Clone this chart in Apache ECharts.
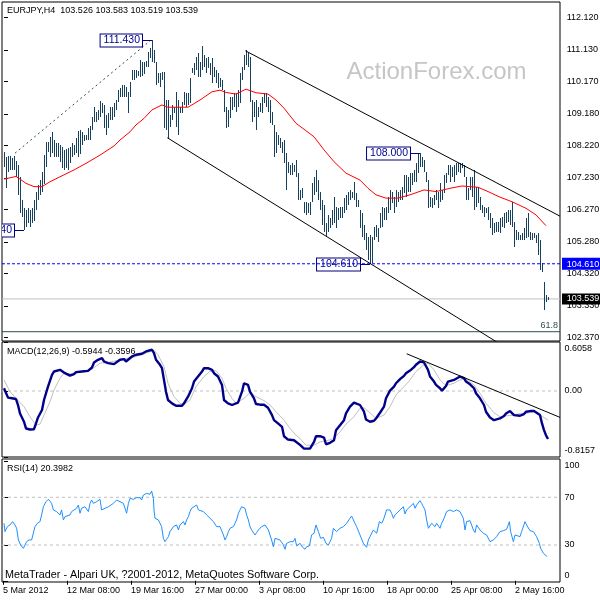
<!DOCTYPE html>
<html><head><meta charset="utf-8">
<script src="https://cdn.jsdelivr.net/npm/echarts@6/dist/echarts.min.js"></script>
<style>html,body{margin:0;padding:0;background:#fff}#c{width:600px;height:600px}</style>
</head><body><div id="c"></div>
<script>
const FONT = 'Liberation Sans';
// ---------- price bars (H4, one per bar index) ----------
const barHigh = [
108.02,107.86,107.89,107.89,107.83,107.89,107.74,107.62,107.25,106.55,
106.31,106.25,106.31,106.25,106.31,106.55,106.80,107.01,107.16,107.41,
107.92,108.32,108.32,108.47,108.63,108.38,108.29,108.29,108.23,108.17,
108.08,108.11,108.14,108.17,108.29,108.23,108.44,108.66,108.69,108.63,
108.53,108.53,108.75,108.81,109.08,109.39,109.23,109.30,109.57,109.51,
109.45,109.14,109.20,109.39,109.39,109.51,109.60,109.90,109.97,110.06,
110.06,110.00,109.84,110.15,110.51,110.51,110.51,110.48,110.82,110.76,
110.76,110.79,111.06,111.18,111.43,111.12,110.76,110.42,110.42,110.45,
110.45,109.60,109.60,109.14,109.45,109.39,109.84,109.60,109.39,109.54,
109.84,109.81,109.81,110.27,110.58,110.73,110.91,111.03,110.76,111.25,
110.97,110.88,110.91,110.73,110.88,110.61,110.51,110.42,110.27,110.21,
109.90,109.39,109.30,109.69,109.69,109.81,109.81,109.90,110.42,110.61,
110.97,111.12,111.03,110.91,109.60,109.54,109.60,109.39,109.51,109.69,
109.81,109.81,109.69,109.60,109.23,108.84,108.63,108.53,108.44,108.32,
108.38,107.99,107.71,107.62,107.68,107.62,107.77,107.38,106.86,106.92,
106.49,106.49,106.46,106.49,107.07,107.25,107.47,107.16,106.80,106.55,
106.40,105.85,106.10,106.00,106.25,106.64,106.34,106.31,106.34,106.34,
106.61,106.71,106.80,106.86,106.80,107.10,106.77,106.55,106.25,106.16,
105.79,105.55,105.43,105.49,105.43,105.73,105.79,105.70,106.16,106.34,
106.31,106.34,106.64,106.86,106.80,106.64,106.86,106.80,106.86,106.95,
107.31,107.31,107.25,107.38,107.38,107.47,107.68,107.99,108.00,107.86,
107.77,107.41,107.16,106.64,106.61,106.71,106.86,106.80,107.07,106.86,
107.31,107.38,107.62,107.62,107.56,107.62,107.68,107.68,107.68,107.68,
107.62,107.25,106.92,107.25,107.25,107.47,106.95,106.92,106.64,106.40,
106.34,106.31,106.34,106.16,106.00,105.85,105.88,105.88,106.00,106.04,
106.16,106.19,106.25,106.25,106.49,105.88,105.64,105.58,105.49,105.55,
105.70,106.00,106.16,105.58,105.55,105.55,105.49,105.55,105.33,104.63,
104.05,103.66,103.583];
const barLow = [
107.56,106.92,107.41,107.47,107.47,107.47,107.25,106.71,106.16,106.04,
105.64,105.73,105.85,105.73,105.85,105.91,106.25,106.55,106.71,106.80,
107.04,107.56,108.02,107.86,107.99,107.86,107.86,107.86,107.71,107.53,
107.47,107.53,107.47,107.68,107.86,107.92,107.99,107.86,107.95,108.23,
108.35,108.38,108.38,108.38,108.69,108.93,108.93,108.99,109.08,109.20,
108.75,108.53,108.75,108.99,108.99,109.08,109.30,109.54,109.69,109.69,
109.69,109.69,109.20,109.69,110.21,110.21,110.27,110.33,110.30,110.33,
110.39,110.61,110.61,110.88,110.76,110.73,110.06,110.12,110.00,110.21,
108.75,108.69,108.44,108.78,108.99,109.20,108.78,108.53,109.20,109.20,
109.45,109.39,109.45,109.51,110.42,110.36,110.51,110.30,110.30,110.51,
110.61,110.42,110.58,110.36,110.12,110.30,110.12,109.97,110.00,109.90,
109.23,108.75,108.78,109.05,109.30,109.39,109.23,109.39,109.51,110.21,
110.51,110.67,110.61,109.54,108.93,109.08,108.69,109.08,109.23,109.20,
109.51,109.39,109.23,108.90,108.84,107.86,107.99,108.23,108.14,107.99,
107.68,106.86,107.38,107.31,107.31,107.41,107.25,106.55,106.55,106.61,
106.16,106.10,106.16,106.10,106.49,106.71,106.80,106.55,106.25,105.79,
105.58,105.43,105.58,105.70,105.79,105.85,105.70,105.94,106.00,106.00,
106.16,106.25,106.40,106.55,106.61,106.55,106.34,106.34,105.70,105.43,
105.33,105.03,104.73,104.61,104.63,105.33,105.43,105.27,105.70,105.73,
105.94,105.94,106.16,106.25,106.46,106.16,106.34,106.49,106.55,106.55,
106.77,106.64,106.80,106.80,107.01,107.10,107.10,107.38,107.56,107.56,
107.41,107.10,106.31,106.34,106.31,106.40,106.55,106.31,106.49,106.55,
106.77,107.07,107.31,107.10,107.25,107.10,107.31,107.41,107.38,107.53,
107.25,106.55,106.55,106.86,106.64,106.25,106.34,106.46,106.25,106.16,
106.04,106.16,105.94,105.70,105.49,105.55,105.58,105.58,105.55,105.73,
105.70,105.85,105.88,105.79,105.73,105.12,105.33,105.33,105.33,105.33,
105.33,105.40,105.43,105.33,105.33,105.40,105.24,104.88,104.42,104.36,
103.20,103.45,103.519];
// moving average (red), [bar index, price]
const maLine = [[0,107.19],[6,107.27],[8,107.19],[11,107.06],[15,106.96],[19,106.96],[23,107.11],[29,107.29],[35,107.47],[41,107.67],[48,107.92],[55,108.20],[58,108.38],[63,108.63],[66,108.84],[70,109.04],[74,109.30],[79,109.45],[82,109.38],[92,109.38],[98,109.60],[104,109.85],[108,109.90],[111,109.83],[116,109.78],[121,109.93],[126,109.82],[132,109.78],[136,109.60],[140,109.35],[146,108.89],[155,108.48],[160,108.08],[165,107.72],[171,107.37],[178,107.16],[182,106.91],[186,106.71],[191,106.61],[197,106.61],[203,106.71],[210,106.86],[216,106.81],[223,106.91],[229,106.98],[237,106.94],[242,106.81],[248,106.64],[254,106.50],[261,106.30],[266,106.10],[271,105.77]];
// drawn objects
const upperChannel = [[120.7,111.10],[278,106.06]];
const lowerChannel = [[81.65,108.45],[250,102.09]];
const riseTrend = [[5.5,107.98],[73,111.40]];
const levelPrice = 104.61, bidPrice = 103.539, fibPrice = 102.54, fibText = '61.8';
const markIdx = [74, 208, 183, 10];
const markPrice = [111.43, 108.00, 104.61, 105.64];
const priceTicks = [102.37,103.33,104.32,105.28,106.27,107.23,108.22,109.18,110.17,111.13,112.12];
// MACD
const macdLine = [[0,0.034],[2,-0.082],[4,-0.090],[6,-0.099],[7,-0.173],[8,-0.277],[10,-0.380],[11,-0.463],[13,-0.476],[15,-0.472],[16,-0.401],[17,-0.327],[19,-0.235],[20,-0.111],[22,0.054],[24,0.199],[25,0.241],[28,0.262],[30,0.228],[31,0.208],[33,0.191],[35,0.208],[36,0.233],[39,0.241],[42,0.249],[44,0.291],[45,0.353],[47,0.386],[49,0.407],[50,0.365],[52,0.344],[55,0.332],[56,0.344],[58,0.386],[60,0.394],[61,0.365],[62,0.378],[64,0.427],[66,0.448],[69,0.460],[71,0.489],[74,0.510],[75,0.469],[76,0.386],[78,0.324],[79,0.282],[80,0.137],[81,-0.008],[82,-0.111],[84,-0.153],[86,-0.182],[89,-0.182],[90,-0.153],[92,-0.070],[94,0.034],[95,0.117],[97,0.179],[99,0.241],[100,0.282],[102,0.282],[104,0.262],[105,0.220],[107,0.179],[109,0.075],[110,-0.111],[112,-0.153],[114,-0.173],[115,-0.194],[117,-0.144],[119,-0.008],[120,0.096],[122,0.075],[123,-0.008],[125,-0.090],[126,-0.161],[128,-0.169],[130,-0.169],[132,-0.207],[134,-0.298],[135,-0.360],[137,-0.401],[139,-0.443],[140,-0.559],[142,-0.600],[145,-0.608],[146,-0.621],[148,-0.666],[150,-0.712],[151,-0.733],[153,-0.712],[155,-0.629],[156,-0.559],[158,-0.559],[160,-0.575],[161,-0.658],[163,-0.641],[165,-0.608],[166,-0.484],[168,-0.422],[170,-0.360],[171,-0.277],[173,-0.194],[175,-0.144],[176,-0.132],[178,-0.173],[180,-0.256],[181,-0.352],[183,-0.380],[185,-0.368],[186,-0.339],[188,-0.269],[190,-0.194],[191,-0.090],[193,0.005],[195,0.054],[196,0.096],[198,0.146],[200,0.187],[201,0.220],[203,0.253],[205,0.295],[206,0.324],[208,0.365],[209,0.378],[210,0.353],[212,0.262],[213,0.179],[215,0.117],[216,0.075],[218,0.034],[219,0.005],[221,0.063],[222,0.117],[225,0.137],[226,0.158],[228,0.179],[230,0.158],[231,0.117],[233,0.083],[235,0.034],[236,-0.028],[238,-0.090],[240,-0.173],[241,-0.256],[243,-0.327],[245,-0.360],[246,-0.360],[248,-0.339],[250,-0.310],[251,-0.277],[253,-0.248],[255,-0.298],[256,-0.310],[258,-0.306],[260,-0.285],[261,-0.256],[263,-0.248],[265,-0.248],[266,-0.256],[268,-0.298],[269,-0.401],[270,-0.484],[271,-0.546],[272,-0.594]];
const signalLine = [[0,0.137],[3,-0.008],[6,-0.090],[10,-0.194],[13,-0.318],[16,-0.422],[18,-0.409],[20,-0.298],[23,-0.132],[25,0.013],[28,0.158],[30,0.220],[33,0.212],[36,0.220],[40,0.249],[44,0.270],[48,0.344],[53,0.357],[58,0.386],[65,0.419],[70,0.460],[75,0.502],[77,0.448],[80,0.303],[82,0.096],[85,-0.070],[88,-0.153],[90,-0.165],[93,-0.111],[96,0.054],[100,0.179],[103,0.241],[106,0.253],[109,0.158],[111,0.034],[114,-0.090],[116,-0.153],[120,-0.090],[123,-0.020],[126,-0.070],[130,-0.119],[133,-0.173],[136,-0.256],[140,-0.360],[143,-0.463],[146,-0.546],[148,-0.588],[151,-0.670],[155,-0.670],[158,-0.629],[161,-0.617],[165,-0.588],[168,-0.505],[171,-0.409],[175,-0.318],[178,-0.215],[180,-0.207],[183,-0.269],[186,-0.339],[190,-0.298],[193,-0.194],[196,-0.049],[200,0.054],[203,0.137],[206,0.241],[210,0.324],[212,0.344],[215,0.262],[218,0.137],[221,0.067],[225,0.096],[228,0.137],[231,0.146],[235,0.075],[238,-0.028],[241,-0.153],[245,-0.269],[248,-0.318],[251,-0.306],[255,-0.298],[258,-0.277],[261,-0.277],[265,-0.256],[268,-0.298],[272,-0.360]];
const macdTrend = [[201.35,0.460],[278,-0.326]];
const macdMax = 0.6058, macdMin = -0.8157;
// RSI(14)
const rsiLine = [[0,48.2],[0.5,41.2],[1.7,45.4],[3,46.8],[4.3,49.6],[5.5,46.8],[6.3,44.0],[7.2,34.2],[8.3,30.0],[9.7,27.2],[10.5,26.4],[11.3,32.8],[12.5,34.2],[13.8,34.2],[14.7,35.6],[15.5,45.4],[16.7,48.2],[18,49.6],[18.8,55.2],[19.7,62.1],[21,66.3],[22.2,68.3],[23,69.1],[23.8,64.9],[24.7,59.4],[25.5,60.8],[26.3,58.0],[27.2,59.4],[28,55.2],[28.8,59.4],[29.7,51.0],[30.5,53.8],[31.3,52.4],[33,55.2],[33.8,58.0],[34.7,59.4],[36.3,60.8],[37.2,63.5],[38,56.6],[38.8,60.8],[39.7,59.4],[40.5,62.1],[42.2,58.0],[43,64.9],[43.8,67.7],[44.7,64.9],[46.3,66.3],[48,68.3],[48.8,59.4],[49.7,58.0],[50.5,60.8],[51.3,59.4],[52.2,62.1],[53,61.6],[54.7,64.9],[55.5,63.5],[56.3,67.7],[57.2,69.1],[58,66.3],[58.8,67.7],[59.7,64.9],[60.5,65.5],[61.3,56.6],[62.2,64.9],[63,69.1],[64.7,68.3],[66.3,69.7],[68,69.7],[68.8,67.7],[69.7,71.9],[71.3,73.3],[72.2,74.7],[73,72.5],[73.8,75.3],[74.7,69.1],[75,59.4],[75.5,52.4],[77.2,51.0],[78,51.5],[78.8,45.4],[79.7,35.6],[80.5,32.8],[81.3,34.8],[82.2,37.0],[83,41.2],[83.8,42.6],[84.7,45.4],[85.5,44.0],[86.3,46.8],[87.2,42.6],[88,46.8],[88.8,45.4],[89.7,49.6],[90.5,46.8],[91.3,51.0],[92.2,53.8],[93,58.0],[93.8,60.8],[94.7,62.1],[96.3,63.5],[97.2,59.4],[98,60.8],[99.7,58.0],[101.3,55.2],[103,52.4],[104.7,49.6],[106.3,45.4],[108,45.4],[109.7,38.4],[110.5,34.2],[111.3,37.0],[112.2,41.2],[113,44.0],[113.8,42.6],[114.7,45.4],[116.3,51.0],[117.2,56.6],[118,59.4],[118.8,62.1],[119.7,63.5],[120.5,60.8],[121.3,55.2],[122.2,51.0],[123,45.4],[123.8,42.6],[124.7,41.2],[125.5,38.4],[126.3,40.4],[127.2,42.6],[128.8,45.4],[129.7,45.9],[130.5,46.8],[131.3,45.9],[132.2,42.6],[133,38.4],[133.8,34.2],[134.7,28.6],[135.5,35.6],[136.3,35.6],[138,34.2],[138.8,32.8],[139.7,30.0],[140.5,26.4],[141.3,31.4],[142.2,32.8],[143,32.8],[144.7,32.8],[145.5,35.6],[146.3,29.2],[147.2,30.0],[148,31.4],[149.3,28.1],[150.5,26.4],[151.3,28.6],[152.7,29.2],[153.8,38.4],[155,39.8],[156,46.8],[157.2,41.2],[158.3,35.6],[159.7,36.4],[161,31.4],[162.2,30.0],[163,32.8],[163.8,35.6],[164.7,44.0],[166.3,41.2],[168,44.0],[169.7,45.4],[171.3,48.2],[173,52.4],[173.8,54.3],[174.7,51.0],[175.5,48.2],[176.3,45.4],[178,38.4],[179.7,31.4],[181.3,28.1],[182.2,34.2],[183,37.0],[183.8,38.4],[184.7,42.6],[185.5,44.0],[186.3,39.8],[187.7,49.6],[188.8,48.2],[189.7,51.0],[190.5,52.4],[191.3,59.4],[192.2,60.8],[193,59.4],[193.8,56.6],[194.7,52.4],[195.5,55.2],[196.3,56.6],[198,59.4],[198.8,58.0],[199.7,62.1],[200.5,56.0],[201.3,59.4],[203,62.1],[204.7,64.9],[205.5,60.8],[206.3,63.5],[208,67.2],[208.8,64.9],[209.7,62.1],[210.5,59.4],[211.3,51.0],[212.2,44.0],[213,45.4],[213.8,48.2],[214.7,49.6],[215.5,45.4],[216.3,48.2],[217.2,49.6],[218,44.0],[218.8,48.2],[219.7,51.0],[221.3,58.0],[223,59.4],[224.7,58.0],[226.3,59.4],[228,58.0],[228.8,55.2],[229.7,52.4],[230.5,42.6],[231.3,49.6],[232.2,48.2],[233,50.4],[233.8,46.8],[234.7,42.6],[235.5,40.4],[236.3,46.8],[237.2,45.4],[238,42.6],[238.8,41.2],[239.7,39.8],[241.3,38.4],[243,32.8],[243.8,31.4],[244.7,34.2],[246.3,37.0],[248,41.2],[249.7,42.0],[251.3,43.1],[252.7,49.6],[253.3,41.2],[254.7,32.8],[255.5,38.4],[256.3,38.4],[258,37.0],[258.8,41.2],[259.7,42.6],[260.5,49.6],[261.3,46.8],[263,42.0],[264.7,41.2],[266.3,37.0],[267.7,31.4],[268.3,27.2],[269.7,23.0],[271.5,20.4]];
const rsiTicks = [100, 70, 30, 0];
const rsiLevels = [70, 30];
// time axis labels (first bar index of each label)
const xLabelIdx = [0, 32, 64, 96, 128, 160, 192, 224, 256];
const xLabelText = ['5 Mar 2012','12 Mar 08:00','19 Mar 16:00','27 Mar 00:00','3 Apr 08:00','10 Apr 16:00','18 Apr 00:00','25 Apr 08:00','2 May 16:00'];
const titleText = 'EURJPY,H4  103.526 103.583 103.519 103.539';
const macdTitle = 'MACD(12,26,9) -0.5944 -0.3596';
const rsiTitle = 'RSI(14) 20.3982';
const footerText = 'MetaTrader - Alpari UK, ?2001-2012, MetaQuotes Software Corp.';
const watermark = 'ActionForex.com';

// ---------- chart ----------
const BAR = '#15405e';
const XMIN = -1, XMAX = 278;
const chart = echarts.init(document.getElementById('c'), null, {renderer: 'canvas', width: 600, height: 600});
const grids = [
  {left: 2, right: 40, top: 2, height: 339},
  {left: 2, right: 40, top: 342, height: 115},
  {left: 2, right: 40, top: 459, height: 123}
].map(g => Object.assign(g, {show: true, borderColor: '#000', borderWidth: 1, backgroundColor: '#fff', containLabel: false, outerBoundsMode: 'none'}));
function hiddenX(i) {
  return {type: 'value', gridIndex: i, min: XMIN, max: XMAX, show: false, splitLine: {show: false}};
}
const lbl = (extra) => Object.assign({fontFamily: FONT, fontSize: 9, color: '#000'}, extra);
const xTickVals = xLabelIdx.map(v => v - 0.5);
function plainLine(name, data, color, width, type, xi, yi, z) {
  return {type: 'line', name: name, xAxisIndex: xi, yAxisIndex: yi, data: data, symbol: 'none', showSymbol: false,
    silent: true, animation: false, z: z || 2, clip: true,
    lineStyle: {color: color, width: width, type: type || 'solid', cap: 'butt'}};
}
const H = (v) => [[XMIN, v], [XMAX, v]];

const option = {
  animation: false,
  backgroundColor: '#fff',
  title: [
    {text: titleText, left: 7, top: 6.2, padding: 0, textStyle: lbl({fontWeight: 'normal', lineHeight: 9})},
    {text: watermark, left: 346.5, top: 60.5, padding: 0, z: 0, textStyle: {fontFamily: FONT, fontSize: 24, fontWeight: 'normal', color: '#c6c6c6', lineHeight: 24}},
    {text: macdTitle, left: 7, top: 347.5, padding: 0, textStyle: lbl({fontWeight: 'normal', lineHeight: 9})},
    {text: rsiTitle, left: 7, top: 463.8, padding: 0, textStyle: lbl({fontWeight: 'normal', lineHeight: 9})},
    {text: footerText, left: 5, top: 569.6, padding: 0, textStyle: lbl({fontWeight: 'normal', fontSize: 10.8, lineHeight: 11})}
  ],
  grid: grids,
  xAxis: [hiddenX(0), hiddenX(1), {
    type: 'value', gridIndex: 2, min: XMIN, max: XMAX,
    axisLine: {show: false}, splitLine: {show: false},
    axisTick: {show: true, customValues: xTickVals, length: 4, lineStyle: {color: '#000'}},
    axisLabel: Object.assign(lbl({}), {customValues: xTickVals, align: 'left', margin: 4, hideOverlap: false,
      showMinLabel: true, showMaxLabel: true,
      formatter: (v) => xLabelText[xLabelIdx.indexOf(Math.round(v + 0.5))] || ''})
  }],
  yAxis: [
    {type: 'value', gridIndex: 0, position: 'right', min: 102.257, max: 112.586, scale: true,
      axisLine: {show: false}, splitLine: {show: false},
      axisTick: {show: true, customValues: priceTicks, length: 4, lineStyle: {color: '#000'}},
      axisLabel: {customValues: priceTicks.concat([levelPrice, bidPrice]), margin: 2, hideOverlap: false,
        showMinLabel: true, showMaxLabel: true,
        formatter: (v) => {
          const s = v.toFixed(3);
          if (Math.abs(v - bidPrice) < 1e-9) return '{bid|' + s + '}';
          if (Math.abs(v - levelPrice) < 1e-9) return '{lvl|' + s + '}';
          return '{n|' + s + '}';
        },
        rich: {
          n: lbl({padding: [0, 0, 0, 4.7]}),
          lvl: lbl({color: '#fff', backgroundColor: '#0000ff', padding: [2, 14, 1, 4.7]}),
          bid: lbl({color: '#fff', backgroundColor: '#000', padding: [1, 14, 1, 4.7]})
        }}},
    {type: 'value', gridIndex: 1, position: 'right', min: macdMin, max: macdMax,
      axisLine: {show: false}, splitLine: {show: false},
      axisTick: {show: true, customValues: [macdMax, 0, macdMin], length: 4, lineStyle: {color: '#000'}},
      axisLabel: {customValues: [macdMax, 0, macdMin], margin: 2, hideOverlap: false, showMinLabel: true, showMaxLabel: true,
        formatter: (v) => v === macdMax ? '{t|' + v.toFixed(4) + '}' : (v === macdMin ? '{b|' + v.toFixed(4) + '}' : '{n|' + v.toFixed(2) + '}'),
        rich: {t: lbl({padding: [14, 0, 0, 2.5]}), b: lbl({padding: [0, 0, 12.6, 2.5]}), n: lbl({padding: [0, 0, 0, 2.5]})}}},
    {type: 'value', gridIndex: 2, position: 'right', min: -1.03, max: 102.1,
      axisLine: {show: false}, splitLine: {show: false},
      axisTick: {show: true, customValues: rsiTicks, length: 4, lineStyle: {color: '#000'}},
      axisLabel: {customValues: rsiTicks, margin: 2, hideOverlap: false, showMinLabel: true, showMaxLabel: true,
        formatter: (v) => v === 100 ? '{t|100}' : (v === 0 ? '{b|0}' : '{n|' + v + '}'),
        rich: {t: lbl({padding: [9, 0, 0, 2.5]}), b: lbl({padding: [0, 0, 10, 2.5]}), n: lbl({padding: [0, 0, 0, 2.5]})}}}
  ],
  series: [
    {type: 'custom', name: 'bars', xAxisIndex: 0, yAxisIndex: 0, silent: true, animation: false, z: 3, clip: true,
      encode: {x: 0, y: [1, 2]},
      data: barHigh.map((h, i) => [i, h, barLow[i]]),
      renderItem: (params, api) => {
        const i = api.value(0);
        const a = api.coord([i, api.value(1)]);
        const b = api.coord([i, api.value(2)]);
        const x = Math.floor(a[0]) + 0.5;
        let y1 = Math.round(a[1]), y2 = Math.round(b[1]);
        if (y2 - y1 < 1) y2 = y1 + 1;
        return {type: 'line', shape: {x1: x, y1: y1, x2: x, y2: y2}, style: {stroke: BAR, lineWidth: 1, lineCap: 'butt'}};
      }},
    plainLine('ma', maLine, '#ff0000', 1, 'solid', 0, 0, 4),
    plainLine('upper', upperChannel, '#000', 1, 'solid', 0, 0, 4),
    plainLine('lower', lowerChannel, '#000', 1, 'solid', 0, 0, 4),
    plainLine('rise', riseTrend, '#2f4f4f', 1, [2, 3], 0, 0, 4),
    plainLine('bid', H(bidPrice), '#c0c0c0', 1, 'solid', 0, 0, 2),
    plainLine('fib', H(fibPrice), '#2f4f4f', 1, 'solid', 0, 0, 2),
    {type: 'custom', name: 'marks', xAxisIndex: 0, yAxisIndex: 0, silent: true, animation: false, z: 5, clip: true,
      encode: {x: 0, y: 1},
      data: markIdx.map((i, k) => [i, markPrice[k]]),
      renderItem: (params, api) => {
        const p = api.coord([api.value(0), api.value(1)]);
        const y = Math.round(p[1]) + 0.5;
        const x0 = Math.round(p[0]);
        return {type: 'group', children: [
          {type: 'line', shape: {x1: x0 - 10, y1: y, x2: x0, y2: y}, style: {stroke: '#000080', lineWidth: 1}},
          {type: 'text', x: x0 - 10, y: y, style: {text: api.value(1).toFixed(3), fill: '#00008b', fontFamily: FONT, fontSize: 10.5,
            align: 'right', verticalAlign: 'middle', backgroundColor: '#fff', borderColor: '#000080', borderWidth: 1, padding: [1, 2, 0, 3]}}
        ]};
      }},
    plainLine('level', H(levelPrice), '#0000ff', 1, [3, 2], 0, 0, 6),
    {type: 'custom', name: 'fibLabel', xAxisIndex: 0, yAxisIndex: 0, silent: true, animation: false, z: 5,
      encode: {x: 0, y: 1}, data: [[XMAX, fibPrice]],
      renderItem: (params, api) => {
        const p = api.coord([api.value(0), api.value(1)]);
        return {type: 'text', x: p[0] - 2, y: p[1] - 2, style: {text: fibText, fill: '#2f4f4f', fontFamily: FONT, fontSize: 9, align: 'right', verticalAlign: 'bottom'}};
      }},
    plainLine('zero', H(0), '#c0c0c0', 1, [3, 3], 1, 1, 2),
    plainLine('signal', signalLine, '#c0c0c0', 1, 'solid', 1, 1, 3),
    plainLine('macd', macdLine, '#00008b', 2.4, 'solid', 1, 1, 4),
    plainLine('macdTrend', macdTrend, '#000', 1, 'solid', 1, 1, 5),
    plainLine('r70', H(rsiLevels[0]), '#c0c0c0', 1, [3, 3], 2, 2, 2),
    plainLine('r30', H(rsiLevels[1]), '#c0c0c0', 1, [3, 3], 2, 2, 2),
    plainLine('rsi', rsiLine, '#1e90ff', 1, 'solid', 2, 2, 4)
  ]
};
chart.setOption(option);
</script></body></html>
